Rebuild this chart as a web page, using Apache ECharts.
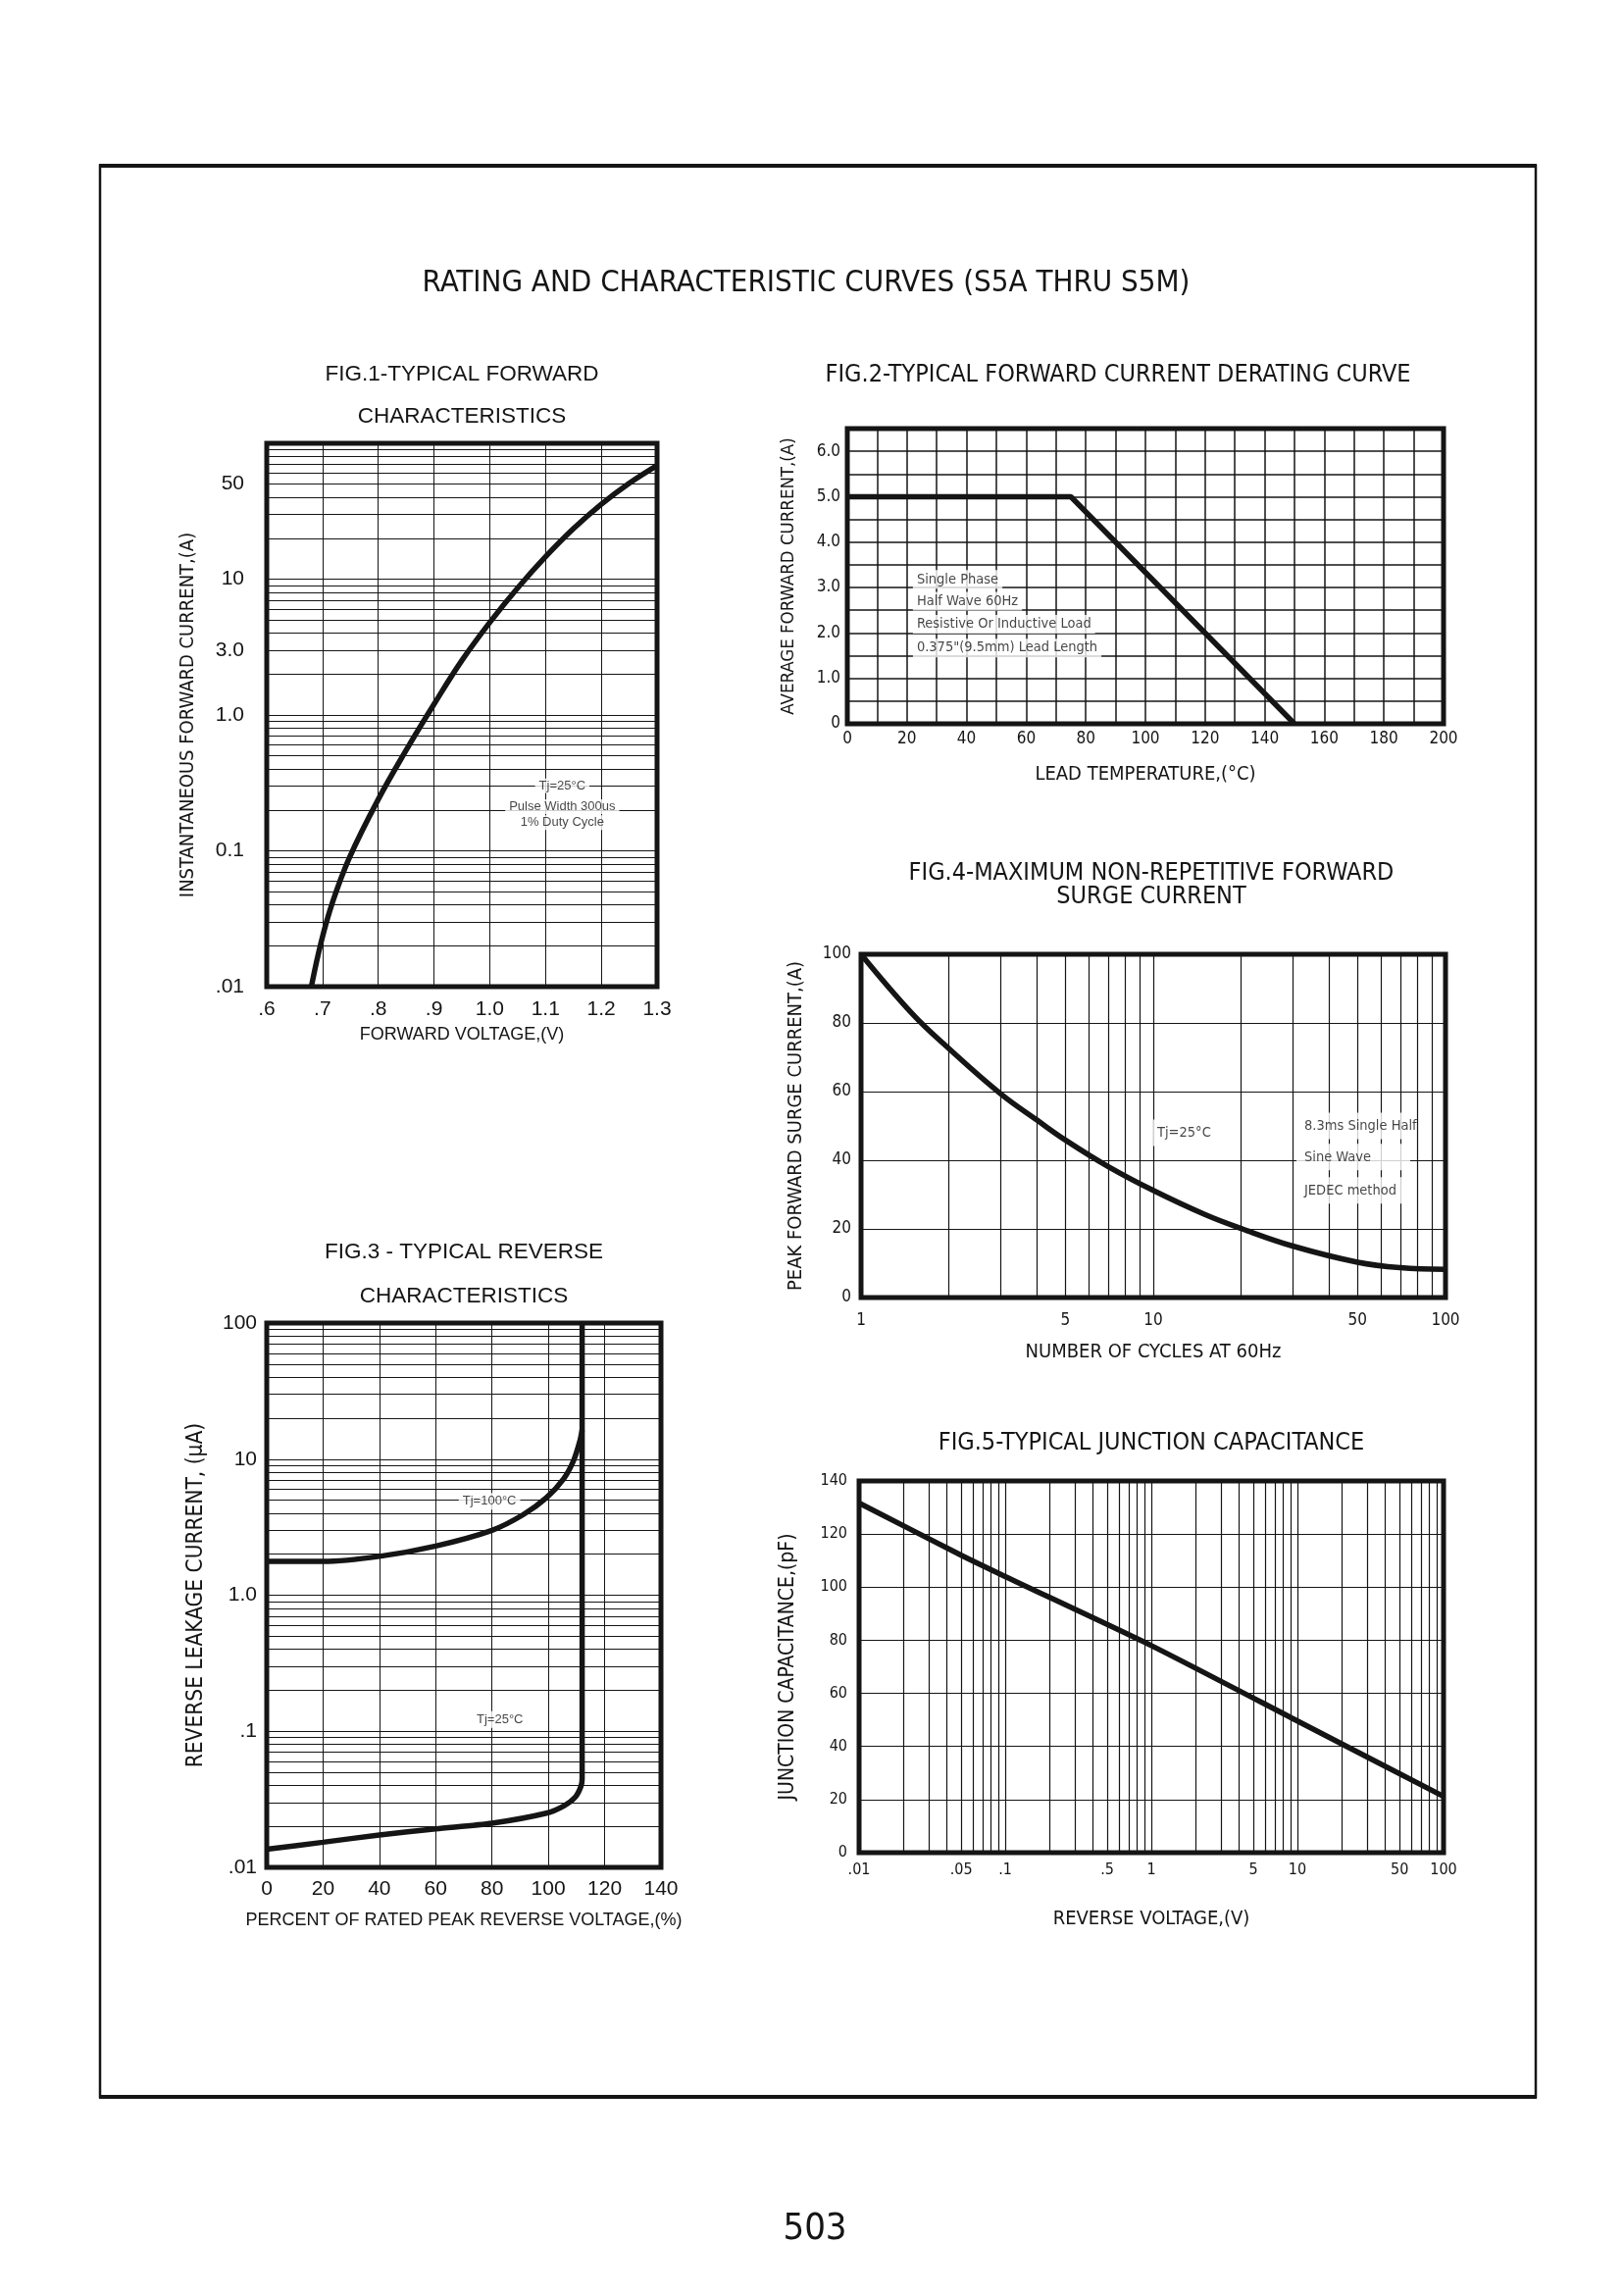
<!DOCTYPE html>
<html><head><meta charset="utf-8">
<script src="https://cdn.jsdelivr.net/npm/echarts@6/dist/echarts.min.js"></script>
<style>html,body{margin:0;padding:0;background:#fff}#c{width:1656px;height:2339px}</style>
</head><body><div id="c"></div>
<script>
// ---------- DATA ----------
// Fig.1 typical forward characteristics
const fig1Voltage = [0.680,0.698,0.7186,0.748,0.799,0.850,0.900,0.950,1.000,1.050,1.100,1.150,1.200,1.250,1.300];
const fig1Current = [0.010,0.0216,0.0425,0.0885,0.235,0.55,1.2,2.52,4.8,8.6,14.6,23.5,35.6,50.8,68.7];
const fig1XTicks = [0.6,0.7,0.8,0.9,1.0,1.1,1.2,1.3];
const fig1XLabels = ['.6','.7','.8','.9','1.0','1.1','1.2','1.3'];
const fig1YTicks = [0.01,0.1,1,3,10,50];
const fig1YLabels = ['.01','0.1','1.0','3.0','10','50'];

// Fig.2 derating curve
const fig2Temp = [0,75,150];
const fig2Current = [5,5,0];
const fig2XLabelTicks = [0,20,40,60,80,100,120,140,160,180,200];
const fig2YLabelTicks = [0,1,2,3,4,5,6];
const fig2YLabels = ['0','1.0','2.0','3.0','4.0','5.0','6.0'];

// Fig.3 typical reverse characteristics
const fig3Percent100 = [0,20,40,60,80,91,99.3,105.5,109,111.2,112];
const fig3Leak100 = [1.77,1.77,1.93,2.30,3.0,3.9,5.2,7.2,9.8,13.6,16.4];
const fig3Percent25 = [0,20,40,60,80,99.3,105.5,109.6,111.6,112,112];
const fig3Leak25 = [0.0136,0.0153,0.0173,0.0192,0.0211,0.025,0.0283,0.0329,0.0395,0.0447,100];
const fig3XLabelTicks = [0,20,40,60,80,100,120,140];
const fig3YTicks = [0.01,0.1,1,10,100];
const fig3YLabels = ['.01','.1','1.0','10','100'];

// Fig.4 surge current
const fig4Cycles = [1,1.5,2,3,4,5,7,10,15,20,30,50,70,100];
const fig4Surge = [100,82.6,72.5,59.4,51.7,45.9,38.2,31.2,24.2,20.1,15.0,10.3,8.7,8.2];
const fig4XTicks = [1,5,10,50,100];
const fig4XLabels = ['1','5','10','50','100'];

// Fig.5 junction capacitance
const fig5Voltage = [0.01,0.05,0.1,1,10,100];
const fig5Cap = [131.7,112,104,78,49.6,21.2];
const fig5XTicks = [0.01,0.05,0.1,0.5,1,5,10,50,100];
const fig5XLabels = ['.01','.05','.1','.5','1','5','10','50','100'];

// ---------- HELPERS ----------
const INK = '#151515';
const FW = "'Liberation Sans', Arial, sans-serif";
const FN = "'Liberation Sans Narrow', 'Arial Narrow', 'DejaVu Sans Condensed', 'Liberation Sans', sans-serif";

function zip(a, b) { return a.map((v, i) => [v, b[i]]); }
function fmt(vals, labels) {
  return v => {
    for (let i = 0; i < vals.length; i++) {
      if (Math.abs(vals[i] - v) <= Math.abs(vals[i]) * 1e-4 + 1e-9) return labels[i];
    }
    return '';
  };
}
function logGrid(from, to) {
  const out = [];
  for (let e = from; e < to; e++) for (let m = 1; m < 10; m++) out.push(+(m * Math.pow(10, e)).toPrecision(6));
  out.push(Math.pow(10, to));
  return out;
}
const split = (w) => ({ show: true, lineStyle: { color: INK, width: w } });

const grids = [
  { left: 272, top: 452, width: 398, height: 554 },   // fig1
  { left: 864, top: 437, width: 608, height: 301 },   // fig2
  { left: 272, top: 1349, width: 402, height: 555 },  // fig3
  { left: 878, top: 973, width: 596, height: 350 },   // fig4
  { left: 876, top: 1510, width: 596, height: 379 }   // fig5
].map(g => Object.assign(g, { show: true, borderColor: INK, borderWidth: 5, backgroundColor: '#fff' }));

const xAxes = [
  { gridIndex: 0, type: 'value', min: 0.6, max: 1.3,
    axisTick: { show: false, customValues: fig1XTicks }, axisLine: { show: false },
    axisLabel: { customValues: fig1XTicks, formatter: fmt(fig1XTicks, fig1XLabels), fontFamily: FW, fontSize: 21, color: INK, margin: 13 },
    splitLine: split(1),
    name: 'FORWARD VOLTAGE,(V)', nameLocation: 'middle', nameGap: 40, nameTextStyle: { fontFamily: FW, fontSize: 18, color: INK } },
  { gridIndex: 1, type: 'value', min: 0, max: 200, interval: 10,
    axisTick: { show: false }, axisLine: { show: false },
    axisLabel: { customValues: fig2XLabelTicks, fontFamily: FN, fontSize: 17, color: INK, margin: 7 },
    splitLine: split(1.5),
    name: 'LEAD TEMPERATURE,(°C)', nameLocation: 'middle', nameGap: 42, nameTextStyle: { fontFamily: FN, fontSize: 20, color: INK } },
  { gridIndex: 2, type: 'value', min: 0, max: 140, interval: 20,
    axisTick: { show: false }, axisLine: { show: false },
    axisLabel: { customValues: fig3XLabelTicks, fontFamily: FW, fontSize: 21, color: INK, margin: 12 },
    splitLine: split(1),
    name: 'PERCENT OF RATED PEAK REVERSE VOLTAGE,(%)', nameLocation: 'middle', nameGap: 45, nameTextStyle: { fontFamily: FW, fontSize: 18, color: INK } },
  { gridIndex: 3, type: 'log', logBase: 10, min: 1, max: 100,
    axisTick: { show: false, customValues: logGrid(0, 2) }, axisLine: { show: false },
    axisLabel: { customValues: fig4XTicks, formatter: fmt(fig4XTicks, fig4XLabels), fontFamily: FN, fontSize: 17, color: INK, margin: 15 },
    splitLine: split(1.2),
    name: 'NUMBER OF CYCLES AT 60Hz', nameLocation: 'middle', nameGap: 46, nameTextStyle: { fontFamily: FN, fontSize: 20, color: INK } },
  { gridIndex: 4, type: 'log', logBase: 10, min: 0.01, max: 100,
    axisTick: { show: false, customValues: logGrid(-2, 2) }, axisLine: { show: false },
    axisLabel: { customValues: fig5XTicks, formatter: fmt(fig5XTicks, fig5XLabels), fontFamily: FN, fontSize: 16, color: INK, margin: 10 },
    splitLine: split(1.2),
    name: 'REVERSE VOLTAGE,(V)', nameLocation: 'middle', nameGap: 58, nameTextStyle: { fontFamily: FN, fontSize: 20, color: INK } }
];

const yAxes = [
  { gridIndex: 0, type: 'log', logBase: 10, min: 0.01, max: 100,
    axisTick: { show: false, customValues: logGrid(-2, 2) }, axisLine: { show: false },
    axisLabel: { customValues: fig1YTicks, formatter: fmt(fig1YTicks, fig1YLabels), fontFamily: FW, fontSize: 21, color: INK, margin: 23 },
    splitLine: split(1),
    name: 'INSTANTANEOUS FORWARD CURRENT,(A)', nameLocation: 'middle', nameRotate: 90, nameGap: 70, nameTextStyle: { fontFamily: FN, fontSize: 20, color: INK } },
  { gridIndex: 1, type: 'value', min: 0, max: 6.5, interval: 0.5,
    axisTick: { show: false }, axisLine: { show: false },
    axisLabel: { customValues: fig2YLabelTicks, formatter: fmt(fig2YLabelTicks, fig2YLabels), fontFamily: FN, fontSize: 17, color: INK, margin: 7 },
    splitLine: split(1.5),
    name: 'AVERAGE FORWARD CURRENT,(A)', nameLocation: 'middle', nameRotate: 90, nameGap: 50, nameTextStyle: { fontFamily: FN, fontSize: 18.5, color: INK } },
  { gridIndex: 2, type: 'log', logBase: 10, min: 0.01, max: 100,
    axisTick: { show: false, customValues: logGrid(-2, 2) }, axisLine: { show: false },
    axisLabel: { customValues: fig3YTicks, formatter: fmt(fig3YTicks, fig3YLabels), fontFamily: FW, fontSize: 21, color: INK, margin: 10 },
    splitLine: split(1),
    name: 'REVERSE LEAKAGE CURRENT, (μA)', nameLocation: 'middle', nameRotate: 90, nameGap: 60, nameTextStyle: { fontFamily: FN, fontSize: 22.5, color: INK } },
  { gridIndex: 3, type: 'value', min: 0, max: 100, interval: 20,
    axisTick: { show: false }, axisLine: { show: false },
    axisLabel: { fontFamily: FN, fontSize: 17, color: INK, margin: 10 },
    splitLine: split(1.2),
    name: 'PEAK FORWARD SURGE CURRENT,(A)', nameLocation: 'middle', nameRotate: 90, nameGap: 56, nameTextStyle: { fontFamily: FN, fontSize: 20, color: INK } },
  { gridIndex: 4, type: 'value', min: 0, max: 140, interval: 20,
    axisTick: { show: false }, axisLine: { show: false },
    axisLabel: { fontFamily: FN, fontSize: 16, color: INK, margin: 12 },
    splitLine: split(1.2),
    name: 'JUNCTION CAPACITANCE,(pF)', nameLocation: 'middle', nameRotate: 90, nameGap: 62, nameTextStyle: { fontFamily: FN, fontSize: 21, color: INK } }
];

function curve(idx, data, smooth) {
  return { type: 'line', xAxisIndex: idx, yAxisIndex: idx, data: data, showSymbol: false, symbol: 'none',
    smooth: smooth, lineStyle: { color: INK, width: 5.5 }, z: 5, animation: false, silent: true };
}
function notes(idx, items, font, size, pos, extra) {
  return { type: 'scatter', xAxisIndex: idx, yAxisIndex: idx, symbolSize: 0, silent: true, animation: false, z: 6,
    data: items.map(it => ({ value: [it[0], it[1]], label: { formatter: it[2] } })),
    label: Object.assign({ show: true, position: pos, distance: 0, fontFamily: font, fontSize: size, color: INK,
      backgroundColor: '#fff', padding: [2, 4] }, extra || {}) };
}

const series = [
  curve(0, zip(fig1Voltage, fig1Current), 0.4),
  notes(0, [[1.13, 0.301, 'Tj=25°C'], [1.13, 0.211, 'Pulse Width 300us'], [1.13, 0.161, '1% Duty Cycle']], FW, 13, 'inside', { padding: [1, 4] }),
  curve(1, zip(fig2Temp, fig2Current), false),
  notes(1, [[22, 3.18, 'Single Phase'], [22, 2.70, 'Half Wave 60Hz'], [22, 2.19, 'Resistive Or Inductive Load'], [22, 1.67, '0.375"(9.5mm) Lead Length']], FN, 14.5, 'right'),
  curve(2, zip(fig3Percent100, fig3Leak100), 0.3),
  curve(2, zip(fig3Percent25, fig3Leak25), 0.25),
  notes(2, [[79.1, 4.9, 'Tj=100°C'], [82.8, 0.122, 'Tj=25°C']], FW, 13, 'inside'),
  curve(3, zip(fig4Cycles, fig4Surge), 0.4),
  notes(3, [[10, 48, 'Tj=25°C']], FN, 14.5, 'right', { padding: [6, 4] }),
  notes(3, [[30.9, 50, '8.3ms Single Half'], [30.9, 40.9, 'Sine Wave'], [30.9, 31.2, 'JEDEC method']], FN, 14.5, 'right', { padding: [6, 8], width: 100 }),
  curve(4, zip(fig5Voltage, fig5Cap), 0.2)
];

function txt(x, y, s, font, size) {
  return { type: 'text', x: x, y: y, silent: true, z: 10,
    style: { text: s, fontFamily: font, fontSize: size, fill: INK, align: 'center', verticalAlign: 'middle' } };
}
const graphic = [
  { type: 'rect', shape: { x: 102, y: 169, width: 1464, height: 1969 }, style: { fill: 'none', stroke: INK, lineWidth: 2.5 }, silent: true },
  { type: 'line', shape: { x1: 101, y1: 169, x2: 1567, y2: 169 }, style: { stroke: INK, lineWidth: 4 }, silent: true },
  { type: 'line', shape: { x1: 101, y1: 2138, x2: 1567, y2: 2138 }, style: { stroke: INK, lineWidth: 4 }, silent: true },
  txt(822, 289, 'RATING AND CHARACTERISTIC CURVES (S5A THRU S5M)', FN, 31),
  txt(471, 382, 'FIG.1-TYPICAL FORWARD', FW, 22.5),
  txt(471, 425, 'CHARACTERISTICS', FW, 22.5),
  txt(1140, 382, 'FIG.2-TYPICAL FORWARD CURRENT DERATING CURVE', FN, 25),
  txt(1174, 890, 'FIG.4-MAXIMUM NON-REPETITIVE FORWARD', FN, 25),
  txt(1174, 914, 'SURGE CURRENT', FN, 25),
  txt(473, 1277, 'FIG.3 - TYPICAL REVERSE', FW, 22.5),
  txt(473, 1322, 'CHARACTERISTICS', FW, 22.5),
  txt(1174, 1471, 'FIG.5-TYPICAL JUNCTION CAPACITANCE', FN, 25),
  txt(831, 2273, '503', FN, 38)
];

const chart = echarts.init(document.getElementById('c'), null, { renderer: 'canvas' });
chart.setOption({
  animation: false,
  backgroundColor: '#fff',
  grid: grids,
  xAxis: xAxes,
  yAxis: yAxes,
  series: series,
  graphic: graphic
});
</script></body></html>
